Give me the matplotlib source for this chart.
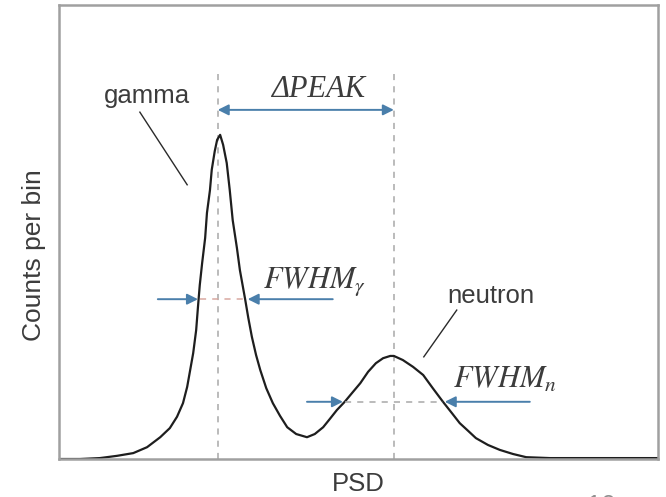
import matplotlib.pyplot as plt

# PSD histogram (arbitrary units)
psd = [0.000, 0.035, 0.068, 0.097, 0.124, 0.147, 0.169, 0.185, 0.197, 0.207,
       0.214, 0.219, 0.224, 0.229, 0.232, 0.235, 0.239, 0.244, 0.247, 0.252,
       0.255, 0.260, 0.264, 0.269, 0.274, 0.280, 0.285, 0.290, 0.297, 0.302,
       0.311, 0.316, 0.322, 0.329, 0.336, 0.346, 0.357, 0.369, 0.381, 0.396,
       0.414, 0.427, 0.441, 0.452, 0.464, 0.477, 0.489, 0.503, 0.516, 0.529,
       0.541, 0.553, 0.559, 0.574, 0.591, 0.608, 0.624, 0.641, 0.656, 0.669,
       0.683, 0.696, 0.716, 0.736, 0.758, 0.780, 0.820, 0.903, 1.000]
counts = [0, 0, 2, 7, 13, 26, 48, 68, 93, 123,
          159, 196, 233, 284, 335, 383, 432, 487, 542, 592,
          637, 678, 703, 714, 692, 652, 593, 526, 465, 416,
          350, 311, 269, 229, 196, 156, 123, 95, 70, 55,
          48, 55, 70, 88, 108, 126, 145, 167, 192, 211,
          222, 227, 227, 218, 203, 185, 156, 126, 101, 79,
          62, 46, 31, 20, 11, 4, 2, 2, 2]

peak_gamma = 0.265
peak_neutron = 0.559

# full width at half maximum, crossing points
fwhm_g = [0.235, 0.312]
fwhm_g_level = 352
fwhm_n = [0.477, 0.641]
fwhm_n_level = 126

blue = '#4a7fab'
grey_txt = '#3c3c3c'

plt.rcParams['mathtext.fontset'] = 'stix'

fig = plt.figure(figsize=(6.66, 4.97), dpi=100)
ax = fig.add_axes([59/666, 38/497, 599/666, 454/497])
ax.set_xlim(0, 1)
ax.set_ylim(0, 1000)
ax.set_xticks([])
ax.set_yticks([])
for s in ax.spines.values():
    s.set_color('#a0a0a0')
    s.set_linewidth(1.8)

# peak positions
for xp in [peak_gamma, peak_neutron]:
    ax.plot([xp, xp], [0, 860], color='#a8a8a8', lw=1.1, ls=(0, (4, 4)))

ax.plot(psd, counts, color='#1e1e1e', lw=1.6)

ax.plot(fwhm_g, [fwhm_g_level]*2, color='#d8a8a0', lw=1.1, ls=(0, (4, 4)))
ax.plot(fwhm_n, [fwhm_n_level]*2, color='#a8a8a8', lw=1.1, ls=(0, (4, 4)))

arr = dict(arrowstyle='-|>', color=blue, lw=1.4, mutation_scale=16,
           shrinkA=0, shrinkB=0)
ax.annotate('', xy=(fwhm_g[0] - 0.003, fwhm_g_level), xytext=(0.165, fwhm_g_level), arrowprops=arr)
ax.annotate('', xy=(fwhm_g[1] + 0.003, fwhm_g_level), xytext=(0.457, fwhm_g_level), arrowprops=arr)
ax.annotate('', xy=(fwhm_n[0] - 0.003, fwhm_n_level), xytext=(0.414, fwhm_n_level), arrowprops=arr)
ax.annotate('', xy=(fwhm_n[1] + 0.003, fwhm_n_level), xytext=(0.786, fwhm_n_level), arrowprops=arr)
ax.annotate('', xy=(peak_gamma, 769), xytext=(peak_neutron, 769),
            arrowprops=dict(arrowstyle='<|-|>', color=blue, lw=1.4, mutation_scale=16,
                            shrinkA=0, shrinkB=0))

ax.text(0.432, 797, 'ΔPEAK', ha='center', va='baseline', fontsize=22,
        color=grey_txt, family='Liberation Serif', style='italic')
ax.text(0.341, 377, r'$FWHM_\gamma$', ha='left', va='baseline', fontsize=22, color=grey_txt)
ax.text(0.658, 156, r'$FWHM_n$', ha='left', va='baseline', fontsize=22, color=grey_txt)

ax.text(0.146, 784, 'gamma', ha='center', va='baseline', fontsize=18.5,
        color=grey_txt, family='Liberation Sans')
ax.plot([0.135, 0.214], [764, 604], color='#2a2a2a', lw=1.0)
ax.text(0.721, 344, 'neutron', ha='center', va='baseline', fontsize=18.5,
        color=grey_txt, family='Liberation Sans')
ax.plot([0.664, 0.609], [328, 225], color='#2a2a2a', lw=1.0)

fig.text(34/666, 1 - 255/497, 'Counts per bin', rotation=90, ha='center', va='center',
         fontsize=19, color=grey_txt, family='Liberation Sans')
fig.text(358/666, 6/497, 'PSD', ha='center', va='baseline', fontsize=18.5,
         color=grey_txt, family='Liberation Sans')
fig.text(587/666, -16/497, '10', ha='left', va='baseline', fontsize=18.5,
         color='#909090', family='Liberation Sans')

fig.savefig('out.png', dpi=100)
